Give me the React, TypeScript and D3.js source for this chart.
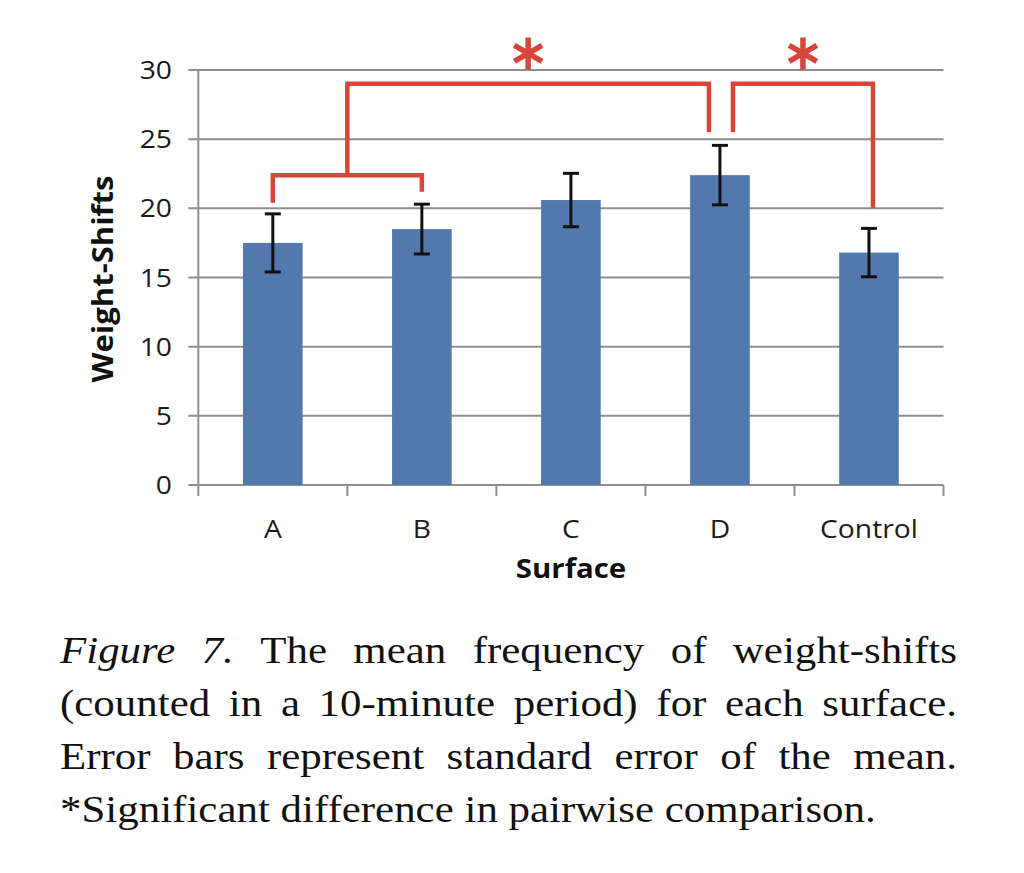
import React, { useLayoutEffect, useRef } from "react";
import * as d3 from "d3";

// ---- data ----
const categories = ["A", "B", "C", "D", "Control"];
const means = [17.5, 18.5, 20.6, 22.4, 16.8];
const stdErrors = [2.1, 1.8, 1.93, 2.15, 1.75];
const yTicks = [0, 5, 10, 15, 20, 25, 30];
const yLabel = "Weight-Shifts";
const xLabel = "Surface";

// significance brackets: leg positions as category index (0.5 = between A and B)
const bracketLeft = [0, 0.5, 3];
const bracketRight = [1, 3, 4];
const bracketLevel = [22.4, 29.0, 29.0];
const bracketLeftEnd = [20.4, 22.4, 25.5];
const bracketRightEnd = [21.2, 25.5, 20.0];
const starBrackets = [1, 2];
const starLevel = 31.2;

const captionLines: { t: string; i?: boolean }[][] = [
  [{ t: "Figure", i: true }, { t: "7.", i: true }, { t: "The" }, { t: "mean" }, { t: "frequency" }, { t: "of" }, { t: "weight-shifts" }],
  [{ t: "(counted" }, { t: "in" }, { t: "a" }, { t: "10-minute" }, { t: "period)" }, { t: "for" }, { t: "each" }, { t: "surface." }],
  [{ t: "Error" }, { t: "bars" }, { t: "represent" }, { t: "standard" }, { t: "error" }, { t: "of" }, { t: "the" }, { t: "mean." }],
  [{ t: "*Significant" }, { t: "difference" }, { t: "in" }, { t: "pairwise" }, { t: "comparison." }],
];

// ---- layout ----
const W = 1024;
const H = 873;
const plotLeft = 198.3;
const plotRight = 943.5;
const plotTop = 70;
const plotBottom = 485;
const RED = "#d5453a";
const GRID = "#8e8e8e";
const BAR = "#5278ae";
const FONT = "'Open Sans', 'Liberation Sans', sans-serif";
const SX = 1.13; // horizontal stretch of the original image
const capLeft = 60;
const capRight = 957;

export default function App() {
  const capRef = useRef<SVGGElement>(null);

  const x = d3.scaleBand<string>().domain(categories).range([plotLeft, plotRight]).padding(0);
  const step = x.step();
  const barW = step * 0.4;
  const y = d3.scaleLinear().domain([0, 30]).range([plotBottom, plotTop]);
  const idxX = d3.scaleLinear().domain([0, categories.length - 1]).range([plotLeft + step / 2, plotRight - step / 2]);

  const legX = (idx: number, side: "l" | "r") => {
    const base = idxX(idx);
    if (idx === 3) return side === "r" ? base - 11 : base + 13;
    if (idx === 4) return base + 4;
    return base;
  };

  useLayoutEffect(() => {
    const g = d3.select(capRef.current);
    const avail = (capRight - capLeft) / SX;
    g.selectAll<SVGGElement, unknown>("g.capline").each(function (_, li) {
      const words = d3.select(this).selectAll<SVGTextElement, unknown>("text").nodes();
      const widths = words.map((w) => w.getComputedTextLength());
      const total = d3.sum(widths);
      const justify = li < captionLines.length - 1;
      const gap = justify ? (avail - total) / (words.length - 1) : 9.5;
      let cx = 0;
      words.forEach((w, i) => {
        w.setAttribute("x", String(cx));
        cx += widths[i] + gap;
      });
    });
  }, []);

  const boundaries = d3.range(categories.length + 1).map((i) => plotLeft + i * step);

  return (
    <svg width={W} height={H} style={{ position: "absolute", left: 0, top: 0, background: "#fff" }}>
      {/* gridlines */}
      {yTicks.map((t) => (
        <line key={"g" + t} x1={plotLeft - 10} x2={plotRight} y1={y(t)} y2={y(t)} stroke={GRID} strokeWidth={2} />
      ))}
      {/* y axis */}
      <line x1={plotLeft} x2={plotLeft} y1={plotTop} y2={plotBottom} stroke={GRID} strokeWidth={2} />
      {yTicks.map((t) => (
        <text key={"yt" + t} transform={`translate(172,${y(t)}) scale(${SX},1)`} dy="0.36em" textAnchor="end" fontFamily={FONT} fontSize={25} fill="#1a1a1a">
          {t}
        </text>
      ))}
      {/* x axis ticks */}
      {boundaries.map((b, i) => (
        <line key={"xt" + i} x1={b} x2={b} y1={plotBottom} y2={plotBottom + 11} stroke={GRID} strokeWidth={2} />
      ))}
      {/* bars */}
      {categories.map((c, i) => (
        <rect key={"b" + c} x={x(c)! + step / 2 - barW / 2} y={y(means[i])} width={barW} height={y(0) - y(means[i])} fill={BAR} />
      ))}
      {/* error bars */}
      {categories.map((c, i) => {
        const cx = x(c)! + step / 2;
        const hi = y(means[i] + stdErrors[i]);
        const lo = y(means[i] - stdErrors[i]);
        return (
          <g key={"e" + c} stroke="#111" strokeWidth={3}>
            <line x1={cx} x2={cx} y1={hi} y2={lo} />
            <line x1={cx - 8} x2={cx + 8} y1={hi} y2={hi} />
            <line x1={cx - 8} x2={cx + 8} y1={lo} y2={lo} />
          </g>
        );
      })}
      {/* x labels */}
      {categories.map((c) => (
        <text key={"xl" + c} transform={`translate(${x(c)! + step / 2},538) scale(${SX},1)`} textAnchor="middle" fontFamily={FONT} fontSize={25} fill="#1a1a1a">
          {c}
        </text>
      ))}
      <text transform={`translate(571,578) scale(${SX},1)`} textAnchor="middle" fontFamily={FONT} fontWeight={700} fontSize={26} fill="#111">
        {xLabel}
      </text>
      <text transform={`translate(103,279) scale(${SX},1) rotate(-90)`} textAnchor="middle" dy="0.36em" fontFamily={FONT} fontWeight={700} fontSize={25} fill="#111"
        textLength={207} lengthAdjust="spacingAndGlyphs">
        {yLabel}
      </text>
      {/* significance brackets */}
      {bracketLeft.map((l, i) => {
        const xl = legX(l, "l");
        const xr = legX(bracketRight[i], "r");
        const p = d3.path();
        p.moveTo(xl, y(bracketLeftEnd[i]));
        p.lineTo(xl, y(bracketLevel[i]));
        p.lineTo(xr, y(bracketLevel[i]));
        p.lineTo(xr, y(bracketRightEnd[i]));
        return <path key={"br" + i} d={p.toString()} fill="none" stroke={RED} strokeWidth={4.5} />;
      })}
      {starBrackets.map((bi) => {
        const cx = (legX(bracketLeft[bi], "l") + legX(bracketRight[bi], "r")) / 2;
        const cy = y(starLevel);
        const r = 16;
        const p = d3.path();
        [90, 30, -30].forEach((a) => {
          const rad = (a * Math.PI) / 180;
          p.moveTo(cx - r * Math.cos(rad), cy - r * Math.sin(rad));
          p.lineTo(cx + r * Math.cos(rad), cy + r * Math.sin(rad));
        });
        return <path key={"st" + bi} d={p.toString()} stroke={RED} strokeWidth={5.5} fill="none" />;
      })}
      {/* caption */}
      <g ref={capRef} transform={`translate(${capLeft},0) scale(${SX},1)`}>
        {captionLines.map((line, li) => (
          <g className="capline" key={"cl" + li}>
            {line.map((w, wi) => (
              <text key={wi} x={0} y={663 + li * 53} fontFamily="'Liberation Serif', 'Times New Roman', serif" fontSize={38}
                fontStyle={w.i ? "italic" : "normal"} fill="#111">
                {w.t}
              </text>
            ))}
          </g>
        ))}
      </g>
    </svg>
  );
}
